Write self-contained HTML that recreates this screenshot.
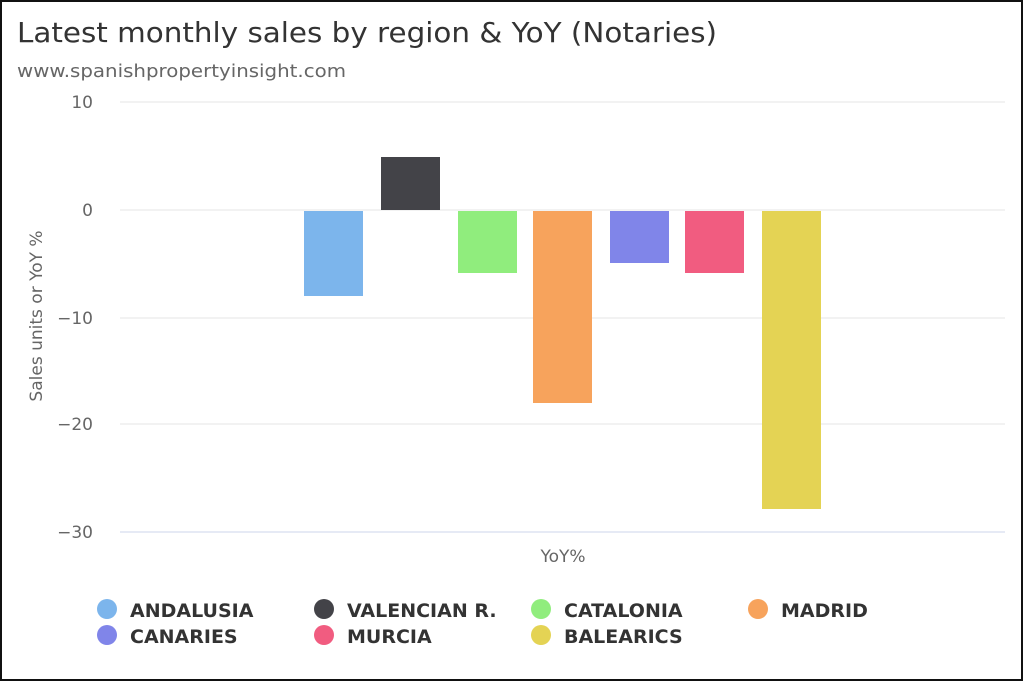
<!DOCTYPE html>
<html><head><meta charset="utf-8"><style>
html,body{margin:0;padding:0;background:#fff}
svg{display:block}
text{font-family:"DejaVu Sans","Liberation Sans",sans-serif}
</style></head><body>
<svg width="1024" height="683" viewBox="0 0 1024 683" xmlns="http://www.w3.org/2000/svg">
<rect x="1" y="1" width="1021" height="679" fill="#fff" stroke="#111" stroke-width="2"/>
<text x="17" y="42" font-size="28" fill="#333" textLength="700" lengthAdjust="spacingAndGlyphs">Latest monthly sales by region &amp; YoY (Notaries)</text>
<text x="17" y="77" font-size="18" fill="#666" textLength="329" lengthAdjust="spacingAndGlyphs">www.spanishpropertyinsight.com</text>
<g stroke="#e6e6e6" stroke-width="1">
<line x1="120" y1="102" x2="1005" y2="102"/>
<line x1="120" y1="210" x2="1005" y2="210"/>
<line x1="120" y1="318" x2="1005" y2="318"/>
<line x1="120" y1="424" x2="1005" y2="424"/>
</g>
<line x1="120" y1="532" x2="1005" y2="532" stroke="#ccd6eb" stroke-width="1"/>
<g font-size="17" fill="#666" text-anchor="end">
<text x="93" y="108">10</text>
<text x="93" y="216">0</text>
<text x="93" y="324">−10</text>
<text x="93" y="430">−20</text>
<text x="93" y="538">−30</text>
</g>
<text transform="translate(42,316) rotate(-90)" font-size="17" fill="#666" text-anchor="middle">Sales units or YoY %</text>
<text x="563" y="562" font-size="17" fill="#666" text-anchor="middle">YoY%</text>
<rect x="304" y="211" width="59" height="85" fill="#7cb5ec"/>
<rect x="381" y="157" width="59" height="53" fill="#434348"/>
<rect x="458" y="211" width="59" height="62" fill="#90ed7d"/>
<rect x="533" y="211" width="59" height="192" fill="#f7a35c"/>
<rect x="610" y="211" width="59" height="52" fill="#8085e9"/>
<rect x="685" y="211" width="59" height="62" fill="#f15c80"/>
<rect x="762" y="211" width="59" height="298" fill="#e4d354"/>
<g font-size="19" font-weight="bold" fill="#333">
<circle cx="107" cy="609" r="10" fill="#7cb5ec"/><text x="130" y="617">ANDALUSIA</text>
<circle cx="324" cy="609" r="10" fill="#434348"/><text x="347" y="617">VALENCIAN R.</text>
<circle cx="541" cy="609" r="10" fill="#90ed7d"/><text x="564" y="617">CATALONIA</text>
<circle cx="758" cy="609" r="10" fill="#f7a35c"/><text x="781" y="617">MADRID</text>
<circle cx="107" cy="635" r="10" fill="#8085e9"/><text x="130" y="643">CANARIES</text>
<circle cx="324" cy="635" r="10" fill="#f15c80"/><text x="347" y="643">MURCIA</text>
<circle cx="541" cy="635" r="10" fill="#e4d354"/><text x="564" y="643">BALEARICS</text>
</g>
</svg>
</body></html>
